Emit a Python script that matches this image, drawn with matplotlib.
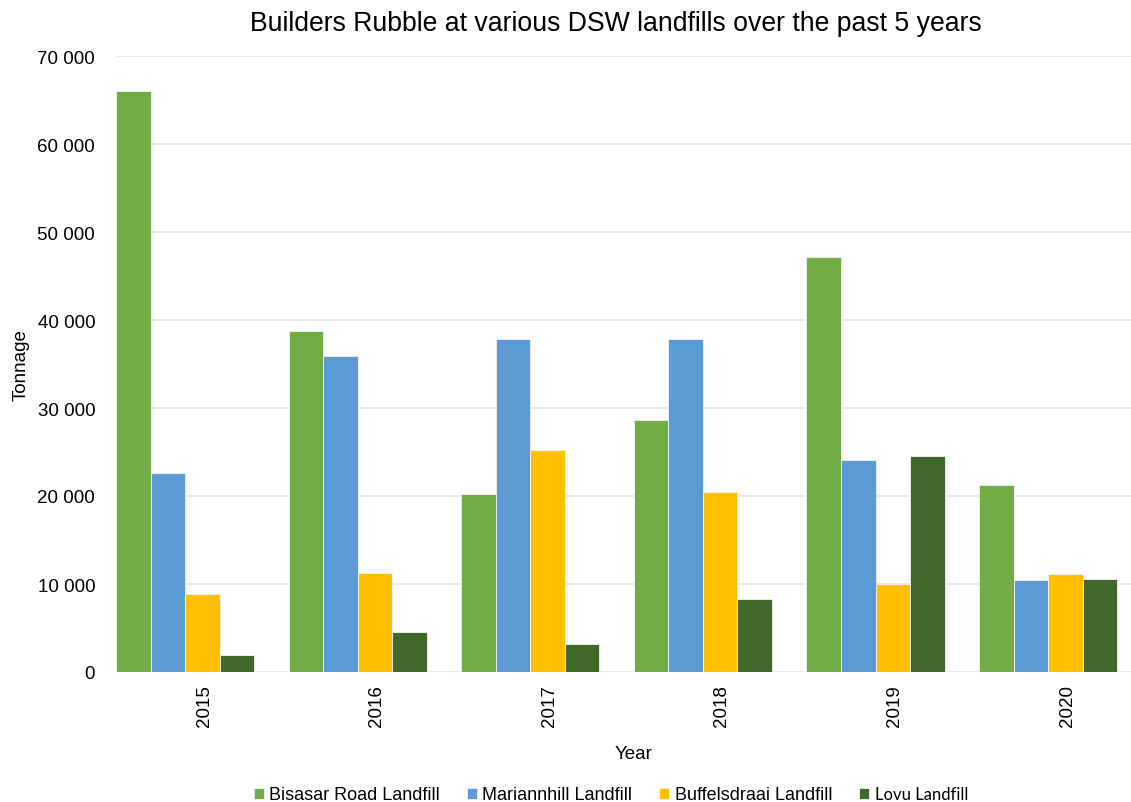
import numpy as np
import matplotlib
matplotlib.use("Agg")
import matplotlib.pyplot as plt
from matplotlib.ticker import FuncFormatter

plt.rcParams["font.family"] = ["Liberation Sans", "DejaVu Sans"]

years = ["2015", "2016", "2017", "2018", "2019", "2020"]
bisasar = [66000, 38750, 20200, 28600, 47200, 21300]
mariannhill = [22600, 35900, 37800, 37800, 24100, 10500]
buffelsdraai = [8900, 11250, 25200, 20500, 10000, 11100]
lovu = [1900, 4500, 3200, 8300, 24500, 10600]

series = [
    ("Bisasar Road Landfill", bisasar, "#70AD47"),
    ("Mariannhill Landfill", mariannhill, "#5B9BD5"),
    ("Buffelsdraai Landfill", buffelsdraai, "#FFC000"),
    ("Lovu Landfill", lovu, "#43682B"),
]

W, H = 1131, 803
fig = plt.figure(figsize=(W / 100, H / 100), dpi=100)
ax = fig.add_axes([116 / W, 1 - 673 / H, 1 - 116 / W, (673 - 57) / H])

x = np.arange(len(years))
width = 0.2
for i, (name, vals, color) in enumerate(series):
    ax.bar(x + (i - 1.5) * width, vals, width, color=color, label=name,
           edgecolor="#f4f4f4", linewidth=0.6, zorder=3)

ax.set_xlim(-0.4, 5.48)
ax.set_ylim(0, 70000)
ax.set_yticks(np.arange(0, 70001, 10000))
ax.yaxis.set_major_formatter(FuncFormatter(lambda v, p: f"{int(v):,}".replace(",", " ")))
ax.grid(axis="y", color="#e6e6e6", linewidth=1.2, zorder=0)

# year labels sit slightly right of the group centre
ax.set_xticks(x + 0.11)
ax.set_xticklabels(years, rotation=90)
ax.tick_params(axis="both", length=0, labelsize=13.5)
ax.tick_params(axis="y", pad=15)
ax.tick_params(axis="x", pad=9)
for s in ax.spines.values():
    s.set_visible(False)

fig.text(616 / W, 1 - 24 / H, "Builders Rubble at various DSW landfills over the past 5 years",
         ha="center", va="center", fontsize=19.2)
fig.text(21 / W, 1 - 365 / H, "Tonnage", rotation=90, ha="center", va="center", fontsize=13.5)
fig.text(634 / W, 1 - 755 / H, "Year", ha="center", va="center", fontsize=13.5)

leg = fig.legend(loc="center", bbox_to_anchor=(611 / W, 1 - 796 / H), ncol=4,
                 frameon=False, fontsize=13, handlelength=0.55, handleheight=0.55,
                 handletextpad=0.3, columnspacing=1.5)
leg.get_texts()[3].set_family(["Lato", "DejaVu Sans"])
leg.get_texts()[3].set_fontsize(12)

fig.savefig("out.png", dpi=100)
